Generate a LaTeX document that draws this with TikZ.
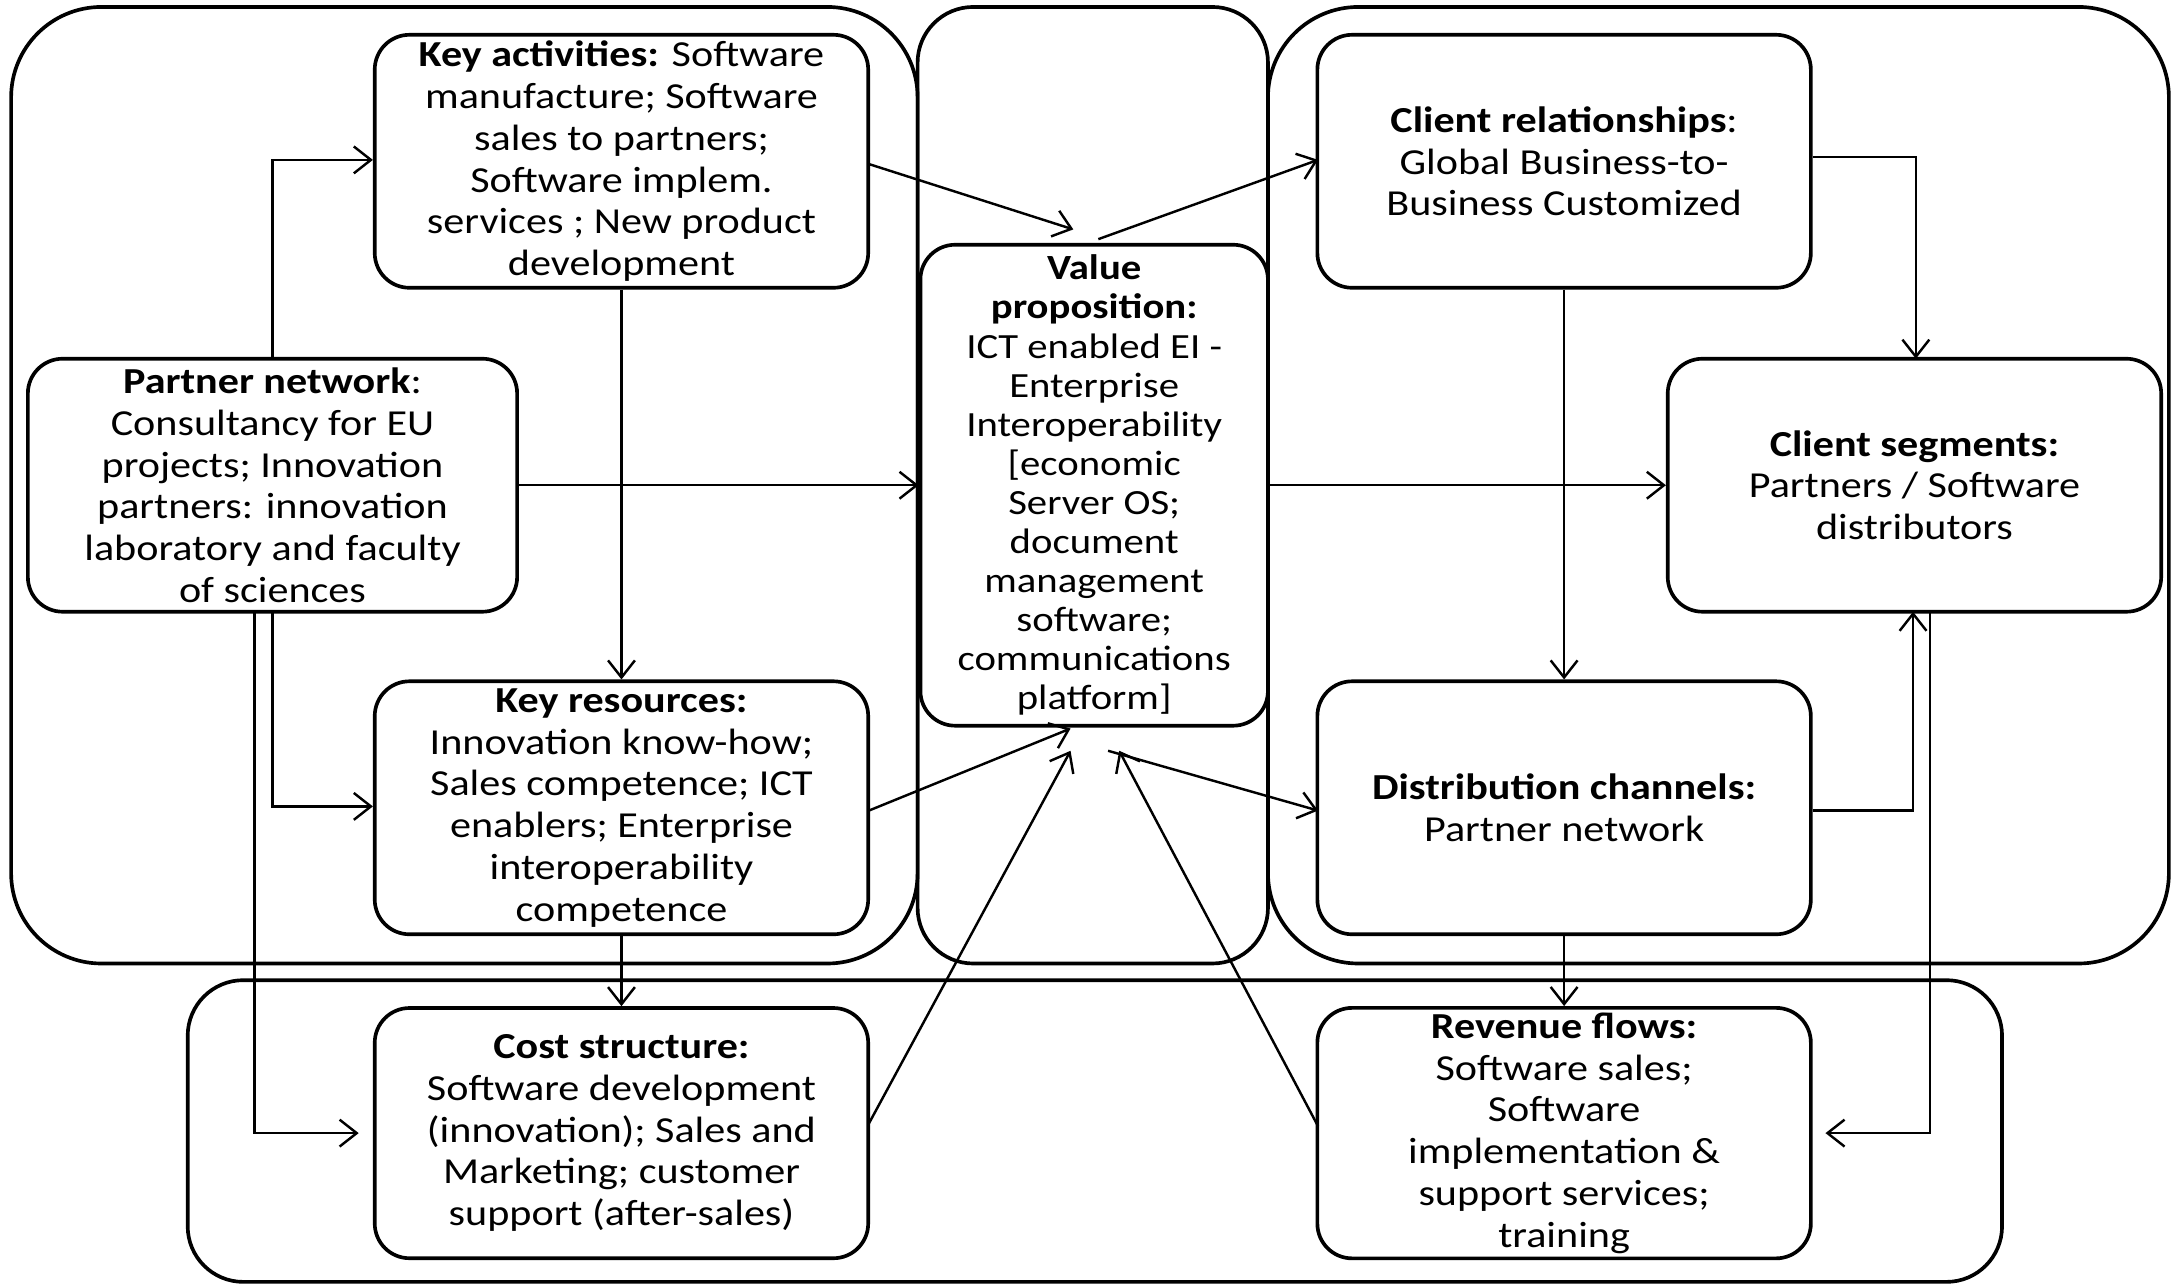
\documentclass[tikz,border=0pt]{standalone}
\usepackage{fontspec}
\setmainfont{Carlito}[FakeStretch=1.15]
\usetikzlibrary{arrows.meta}
\begin{document}
\begin{tikzpicture}[x=0.02cm,y=-0.02cm,
  box/.style={draw,line width=1.5pt,rounded corners=0.5cm,align=center,inner sep=2pt,
    font=\fontsize{15}{17.1}\selectfont},
  grp/.style={draw,line width=1.5pt},
  arr/.style={line width=1pt,-{Straight Barb[length=7pt,width=11pt]}}]
\useasboundingbox (0,0) rectangle (1568,924);
% groups
\draw[grp,rounded corners=1.3cm] (8,5) rectangle (660,693);
\draw[grp,rounded corners=0.8cm] (660,5) rectangle (912,693);
\draw[grp,rounded corners=1.3cm] (912,5) rectangle (1560,693);
\draw[grp,rounded corners=0.8cm] (135,705) rectangle (1440,922);
% nodes
\node[box,minimum width=7.1cm,minimum height=3.64cm] (ka) at (447,116)
 {\textbf{Key activities:} Software\\manufacture; Software\\sales to partners;\\Software implem.\\services ; New product\\development};
\node[box,minimum width=7.04cm,minimum height=3.64cm] (pn) at (196,349)
 {\textbf{Partner network}:\\Consultancy for EU\\projects; Innovation\\partners: innovation\\laboratory and faculty\\of sciences};
\node[box,minimum width=7.1cm,minimum height=3.64cm] (kr) at (447,581)
 {\textbf{Key resources:}\\Innovation know-how;\\Sales competence; ICT\\enablers; Enterprise\\interoperability\\competence};
\node[box,minimum width=5cm,minimum height=6.92cm,inner sep=0pt,font=\fontsize{14.5}{16}\selectfont] (vp) at (787,349)
 {\textbf{Value}\\\textbf{proposition:}\\ICT enabled EI -\\Enterprise\\Interoperability\\{[}economic\\Server OS;\\document\\management\\software;\\communications\\platform{]}};
\node[box,minimum width=7.1cm,minimum height=3.64cm] (cr) at (1125,116)
 {\textbf{Client relationships}:\\Global Business-to-\\Business Customized};
\node[box,minimum width=7.1cm,minimum height=3.64cm] (cs) at (1377,349)
 {\textbf{Client segments:}\\Partners / Software\\distributors};
\node[box,minimum width=7.1cm,minimum height=3.64cm] (dc) at (1125,581)
 {\textbf{Distribution channels:}\\Partner network};
\node[box,minimum width=7.1cm,minimum height=3.6cm] (co) at (447,815)
 {\textbf{Cost structure:}\\Software development\\(innovation); Sales and\\Marketing; customer\\support (after-sales)};
\node[box,minimum width=7.1cm,minimum height=3.6cm] (rv) at (1125,815)
 {\textbf{Revenue flows:}\\Software sales;\\Software\\implementation \&\\support services;\\training};
% coordinates
\coordinate (vt) at (772,165);
\coordinate (vtt) at (790,172);
\coordinate (vb1) at (770,524);
\coordinate (vb2) at (797,540);
\coordinate (vb3) at (770,540);
\coordinate (vb4) at (805,540);
% arrows
\draw[arr] (pn.north) -- (196,115) -- (ka.west |- 0,115);
\draw[arr] (pn.east) -- (vp.west);
\draw[arr] (196,440) -- (196,580) -- (kr.west |- 0,580);
\draw[arr] (183,440) -- (183,815) -- (258,815);
\draw[arr] (ka.south) -- (kr.north);
\draw[arr] (625,118) -- (vt);
\draw[arr] (vtt) -- (948,115);
\draw[arr] (vp.east) -- (cs.west);
\draw[arr] (cr.east |- 0,113) -- (1378,113) -- (1378,258);
\draw[arr] (cr.south) -- (dc.north);
\draw[arr] (625,583) -- (vb1);
\draw[arr] (vb2) -- (948,583);
\draw[arr] (dc.east |- 0,583) -- (1376,583) -- (1376,440);
\draw[arr] (1388,440) -- (1388,815) -- (1313,815);
\draw[arr] (kr.south) -- (co.north);
\draw[arr] (dc.south) -- (rv.north);
\draw[arr] (625,808) -- (vb3);
\draw[arr] (948,810) -- (vb4);
\end{tikzpicture}
\end{document}
